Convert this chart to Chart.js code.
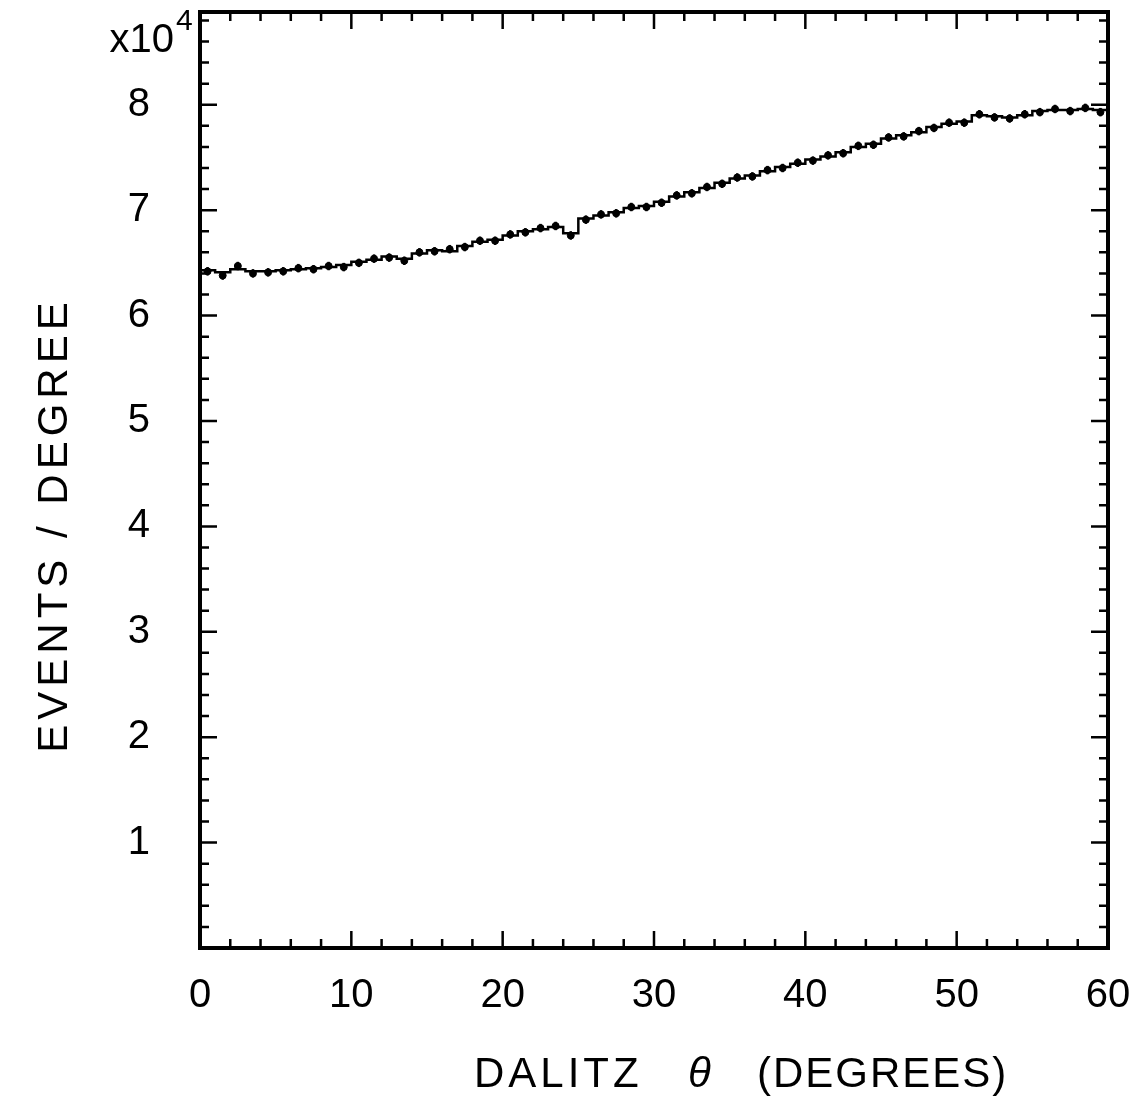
<!DOCTYPE html>
<html lang="en">
<head>
<meta charset="UTF-8">
<title>Dalitz theta</title>
<script src="https://cdn.jsdelivr.net/npm/chart.js"></script>
<style>
  body { margin: 0; background: #fff; }
  #wrap { width: 1130px; height: 1104px; }
</style>
</head>
<body>
<div id="wrap"><canvas id="chart" width="1130" height="1104"></canvas></div>
<script>
// bin edges are 1 degree wide, 0..60; values in units of 10^4 events / degree
const binEdges = [0,1,2,3,4,5,6,7,8,9,10,11,12,13,14,15,16,17,18,19,20,21,22,23,24,25,26,27,28,29,
                  30,31,32,33,34,35,36,37,38,39,40,41,42,43,44,45,46,47,48,49,50,51,52,53,54,55,56,57,58,59,60];
// Monte Carlo histogram
const histValues = [6.43,6.41,6.44,6.42,6.42,6.43,6.44,6.45,6.46,6.48,
                    6.51,6.53,6.56,6.54,6.59,6.62,6.61,6.66,6.70,6.72,
                    6.76,6.80,6.82,6.84,6.78,6.92,6.95,6.98,7.02,7.04,
                    7.08,7.13,7.17,7.21,7.26,7.30,7.33,7.37,7.41,7.44,
                    7.48,7.51,7.55,7.60,7.63,7.68,7.71,7.74,7.79,7.82,
                    7.84,7.90,7.89,7.88,7.90,7.94,7.95,7.95,7.96,7.95];
// measured points (bin centres) and their errors
const dataValues = [6.42,6.38,6.47,6.40,6.41,6.42,6.45,6.44,6.47,6.46,
                    6.50,6.54,6.55,6.52,6.60,6.61,6.63,6.65,6.71,6.71,
                    6.77,6.79,6.83,6.85,6.76,6.91,6.96,6.97,7.03,7.03,
                    7.07,7.14,7.16,7.22,7.25,7.31,7.32,7.38,7.40,7.45,
                    7.47,7.52,7.54,7.61,7.62,7.69,7.70,7.75,7.78,7.83,
                    7.83,7.91,7.88,7.87,7.91,7.93,7.96,7.94,7.97,7.93];
const dataErrors = 0.04;
const xTickLabels = [0,10,20,30,40,50,60];
const yTickLabels = [1,2,3,4,5,6,7,8];

const histPoints = histValues.map((v, i) => ({ x: binEdges[i], y: v }));
histPoints.push({ x: binEdges[binEdges.length - 1], y: histValues[histValues.length - 1] });
const dataPoints = dataValues.map((v, i) => ({ x: (binEdges[i] + binEdges[i + 1]) / 2, y: v }));

const FONT = "'Liberation Sans', 'DejaVu Sans', sans-serif";

// drop the padding chart.js reserves for end labels, so the frame sits where we want it
function noPad(s) {
    s.paddingLeft = 0; s.paddingRight = 0; s.paddingTop = 0; s.paddingBottom = 0;
}

// error bars, frame, inward ticks and titles
const frame = {
    id: "frame",
    afterDatasetsDraw(chart) {
        const ctx = chart.ctx;
        const xs = chart.scales.x, ys = chart.scales.y;
        const a = chart.chartArea;
        ctx.save();
        ctx.strokeStyle = "#000";
        ctx.lineWidth = 2.5;
        dataPoints.forEach(p => {
            const px = xs.getPixelForValue(p.x);
            ctx.beginPath();
            ctx.moveTo(px, ys.getPixelForValue(p.y - dataErrors));
            ctx.lineTo(px, ys.getPixelForValue(p.y + dataErrors));
            ctx.stroke();
        });

        ctx.lineWidth = 2.5;
        for (let v = 0; v <= 60; v += 2) {
            const px = xs.getPixelForValue(v);
            const len = v % 10 === 0 ? 17 : 9;
            ctx.beginPath();
            ctx.moveTo(px, a.bottom); ctx.lineTo(px, a.bottom - len);
            ctx.moveTo(px, a.top); ctx.lineTo(px, a.top + len);
            ctx.stroke();
        }
        for (let k = 1; k * 0.2 < ys.max; k++) {
            const v = k * 0.2;
            const py = ys.getPixelForValue(v);
            const len = k % 5 === 0 ? 17 : 9;
            ctx.beginPath();
            ctx.moveTo(a.left, py); ctx.lineTo(a.left + len, py);
            ctx.moveTo(a.right, py); ctx.lineTo(a.right - len, py);
            ctx.stroke();
        }

        ctx.lineWidth = 4;
        ctx.strokeRect(a.left, a.top, a.right - a.left, a.bottom - a.top);

        ctx.fillStyle = "#000";
        ctx.font = "40px " + FONT;
        ctx.textAlign = "right";
        ctx.textBaseline = "alphabetic";
        ctx.fillText("x10", 174, 52);
        ctx.font = "30px " + FONT;
        ctx.textAlign = "left";
        ctx.fillText("4", 176, 30);

        ctx.font = "42px " + FONT;
        ctx.textAlign = "center";
        ctx.textBaseline = "middle";
        ctx.save();
        ctx.translate(55, 525);
        ctx.rotate(-Math.PI / 2);
        ctx.letterSpacing = "5px";
        ctx.fillText("EVENTS / DEGREE", 0, 0);
        ctx.restore();

        ctx.letterSpacing = "4px";
        ctx.textAlign = "left";
        ctx.fillText("DALITZ", 474, 1075);
        ctx.font = "italic 42px " + FONT;
        ctx.fillText("θ", 688, 1075);
        ctx.letterSpacing = "2px";
        ctx.font = "42px " + FONT;
        ctx.fillText("(DEGREES)", 757, 1075);
        ctx.restore();
    }
};

new Chart(document.getElementById("chart"), {
    type: "scatter",
    data: {
        datasets: [
            {
                type: "line",
                data: histPoints,
                stepped: "before",
                borderColor: "#000",
                borderWidth: 2.5,
                pointRadius: 0,
                fill: false
            },
            {
                data: dataPoints,
                backgroundColor: "#000",
                borderColor: "#000",
                pointRadius: 3.5
            }
        ]
    },
    options: {
        responsive: false,
        animation: false,
        layout: { padding: { top: 12, right: 22, left: 0, bottom: 0 } },
        plugins: { legend: { display: false }, tooltip: { enabled: false } },
        scales: {
            x: {
                type: "linear",
                min: 0,
                max: 60,
                grid: { display: false, drawTicks: false },
                border: { display: false },
                afterFit: s => { s.height = 156; noPad(s); },
                afterBuildTicks: s => { s.ticks = xTickLabels.map(v => ({ value: v })); },
                ticks: {
                    color: "#000",
                    padding: 24,
                    font: { family: FONT, size: 40 },
                    maxRotation: 0
                }
            },
            y: {
                min: 0,
                max: 8.88,
                grid: { display: false, drawTicks: false },
                border: { display: false },
                afterFit: s => { s.width = 200; noPad(s); },
                afterBuildTicks: s => { s.ticks = yTickLabels.map(v => ({ value: v })); },
                ticks: {
                    color: "#000",
                    padding: 50,
                    font: { family: FONT, size: 40 }
                }
            }
        }
    },
    plugins: [frame]
});
</script>
</body>
</html>
